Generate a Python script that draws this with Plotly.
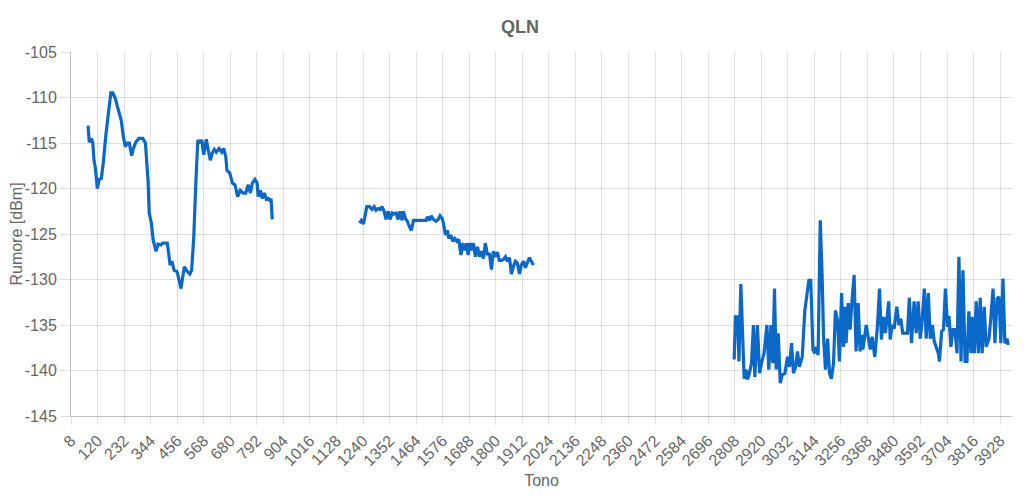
import plotly.graph_objects as go

# ---- Data (tone index, noise in dBm) ----
tones_a = [80, 85, 94, 100, 105, 111, 119, 127, 136, 144, 156, 167, 176, 184, 195, 208, 220, 229, 237, 246,
           254, 264, 271, 282, 294, 311, 322, 327, 333, 338, 347, 355, 367, 375, 387, 395, 406, 414, 420, 426,
           434, 443, 454, 458, 472, 486, 498, 509, 517, 526, 534, 543, 551, 560, 568, 579, 587, 596, 604, 613,
           621, 633, 644, 652, 661, 666, 678, 689, 700, 711, 722, 734, 745, 756, 765, 773, 784, 793, 798, 807,
           815, 824, 832, 841, 849, 852, 857]
qln_a = [-113.1, -114.9, -114.5, -115.0, -116.9, -117.8, -120.0, -119.0, -118.9, -117.2, -113.9, -111.0, -109.5,
         -109.5, -110.1, -111.4, -112.5, -114.3, -115.4, -115.0, -115.0, -116.4, -115.6, -114.9, -114.5, -114.5,
         -115.0, -116.9, -119.1, -122.7, -123.8, -125.7, -126.9, -126.1, -126.2, -126.0, -126.0, -126.0, -127.1,
         -128.4, -128.0, -129.0, -129.1, -129.4, -131.0, -128.6, -129.1, -129.4, -129.0, -125.3, -119.8, -114.7,
         -114.9, -114.7, -116.3, -114.6, -115.8, -116.9, -116.1, -115.7, -116.0, -115.6, -116.0, -115.6, -116.5,
         -118.0, -118.3, -119.4, -119.6, -120.9, -120.2, -120.5, -120.5, -119.6, -120.5, -119.4, -119.0, -119.4,
         -120.9, -120.2, -121.1, -120.5, -121.2, -121.1, -121.4, -121.1, -123.4]

tones_b = [1225, 1233, 1242, 1247, 1256, 1267, 1278, 1287, 1295, 1304, 1312, 1320, 1329, 1337, 1346, 1354, 1363,
           1371, 1380, 1388, 1396, 1405, 1410, 1419, 1427, 1436, 1444, 1453, 1467, 1481, 1495, 1506, 1512, 1520,
           1528, 1537, 1548, 1557, 1565, 1574, 1579, 1588, 1596, 1602, 1610, 1619, 1627, 1636, 1644, 1653, 1661,
           1669, 1678, 1683, 1692, 1700, 1706, 1714, 1723, 1731, 1739, 1748, 1756, 1765, 1773, 1782, 1790, 1799,
           1807, 1815, 1824, 1832, 1841, 1849, 1858, 1866, 1874, 1883, 1891, 1900, 1908, 1917, 1925, 1933, 1942,
           1950, 1959]
qln_b = [-123.8, -123.5, -123.9, -123.3, -122.0, -122.0, -122.3, -122.0, -122.4, -122.2, -122.3, -122.0, -122.5,
         -123.4, -122.5, -123.4, -122.7, -122.8, -122.7, -123.4, -122.5, -123.5, -122.5, -123.3, -123.6, -124.2,
         -124.6, -123.5, -123.5, -123.5, -123.5, -123.5, -123.1, -123.5, -123.0, -123.4, -123.6, -123.4, -123.0,
         -123.3, -123.8, -125.1, -124.6, -125.5, -125.1, -125.8, -125.5, -125.8, -125.6, -127.3, -126.0, -126.8,
         -126.0, -127.3, -126.0, -126.8, -126.0, -127.5, -126.4, -127.5, -126.9, -127.7, -126.0, -127.3, -127.1,
         -128.9, -126.9, -127.5, -127.0, -127.9, -127.9, -127.8, -127.5, -128.0, -127.6, -129.4, -128.6, -128.0,
         -128.2, -129.4, -128.4, -128.0, -128.7, -128.2, -127.6, -128.0, -128.4]

tones_c = [2806, 2811, 2820, 2826, 2834, 2843, 2848, 2856, 2862, 2870, 2879, 2887, 2893, 2904, 2913, 2921, 2932,
           2944, 2952, 2961, 2969, 2976, 2983, 2992, 3000, 3008, 3020, 3031, 3039, 3048, 3056, 3065, 3073, 3081,
           3093, 3104, 3113, 3121, 3129, 3138, 3146, 3152, 3160, 3169, 3177, 3183, 3191, 3200, 3208, 3216, 3225,
           3233, 3242, 3250, 3259, 3267, 3273, 3278, 3287, 3295, 3303, 3312, 3320, 3329, 3337, 3343, 3349, 3357,
           3363, 3371, 3380, 3388, 3399, 3410, 3419, 3427, 3436, 3444, 3450, 3458, 3464, 3472, 3481, 3492, 3501,
           3509, 3517, 3529, 3537, 3545, 3554, 3565, 3574, 3582, 3591, 3599, 3608, 3616, 3625, 3633, 3642, 3650,
           3658, 3667, 3672, 3681, 3689, 3697, 3706, 3712, 3720, 3729, 3737, 3746, 3754, 3763, 3771, 3780, 3788,
           3796, 3805, 3810, 3819, 3827, 3836, 3844, 3852, 3861, 3869, 3881, 3889, 3898, 3906, 3915, 3923, 3931,
           3940, 3948, 3957, 3962]
qln_c = [-138.8, -134.1, -134.1, -139.0, -130.5, -137.0, -140.9, -139.9, -141.0, -140.3, -139.2, -135.0, -140.7,
         -135.0, -140.3, -139.2, -138.1, -135.0, -139.9, -135.0, -139.2, -131.0, -139.9, -135.9, -141.4, -140.5,
         -140.3, -138.5, -139.6, -137.0, -140.3, -139.6, -137.9, -139.6, -138.5, -133.4, -131.9, -130.1, -130.1,
         -137.7, -138.1, -137.4, -138.3, -123.5, -129.7, -136.3, -139.9, -136.5, -140.3, -140.9, -139.2, -133.4,
         -134.5, -139.0, -131.5, -137.4, -133.0, -137.0, -132.6, -135.5, -132.3, -129.5, -137.9, -132.6, -137.9,
         -136.1, -137.7, -136.3, -135.0, -136.3, -137.7, -136.3, -138.5, -135.2, -131.0, -136.6, -134.1, -135.9,
         -134.3, -132.4, -136.6, -135.0, -135.4, -133.0, -135.0, -134.3, -135.9, -135.9, -135.9, -132.0, -137.0,
         -132.4, -135.9, -132.4, -136.5, -134.5, -131.0, -136.5, -131.5, -136.5, -135.0, -136.8, -137.4, -138.1,
         -139.0, -135.7, -135.5, -131.0, -135.2, -134.0, -137.4, -135.5, -135.5, -138.1, -127.5, -139.0, -129.0,
         -139.0, -139.0, -133.5, -138.1, -134.1, -138.1, -132.4, -138.1, -132.0, -138.1, -133.0, -137.4, -136.5,
         -134.1, -131.0, -137.0, -132.1, -131.9, -137.0, -129.9, -137.0, -136.5, -137.2]

tick_vals = list(range(8, 3929, 112))
tick_text = [str(t) for t in tick_vals]
y_ticks = [-105, -110, -115, -120, -125, -130, -135, -140, -145]
y_tick_text = [str(v) for v in y_ticks]

x_all = tones_a + [None] + tones_b + [None] + tones_c
y_all = qln_a + [None] + qln_b + [None] + qln_c

FONT = "Liberation Sans, Arial, Helvetica, sans-serif"
GRID = "rgba(0,0,0,0.12)"

fig = go.Figure()
fig.add_trace(go.Scatter(
    x=x_all, y=y_all, mode="lines", connectgaps=False,
    line=dict(color="#0a68c8", width=3.2), name="QLN", showlegend=False,
))

fig.update_layout(
    width=1024, height=498,
    margin=dict(l=63, r=20, t=44, b=90, autoexpand=False),
    paper_bgcolor="white", plot_bgcolor="white",
    title=dict(text="<b>QLN</b>", x=0.5, xanchor="center", y=0.962, yanchor="middle",
               font=dict(family=FONT, size=18, color="#666666")),
    font=dict(family=FONT, size=16, color="#666666"),
    showlegend=False,
)

fig.update_xaxes(
    range=[8, 3978], tickmode="array", tickvals=tick_vals, ticktext=tick_text,
    tickangle=-45, showgrid=True, gridcolor=GRID, gridwidth=1,
    ticks="outside", ticklen=8, tickcolor=GRID,
    showline=True, linecolor="rgba(0,0,0,0.25)", linewidth=1,
    zeroline=False, tickfont=dict(size=16, color="#666666"),
    title=dict(text="Tono", font=dict(size=16, color="#666666"), standoff=6),
)
fig.update_yaxes(
    range=[-145, -105], tickmode="array", tickvals=y_ticks, ticktext=y_tick_text,
    showgrid=True, gridcolor=GRID, gridwidth=1,
    ticks="outside", ticklen=10, tickcolor=GRID,
    showline=True, linecolor="rgba(0,0,0,0.25)", linewidth=1,
    zeroline=False, tickfont=dict(size=16, color="#666666"),
    title=dict(text="Rumore [dBm]", font=dict(size=16, color="#666666"), standoff=0),
)

fig.write_html("out.html")
